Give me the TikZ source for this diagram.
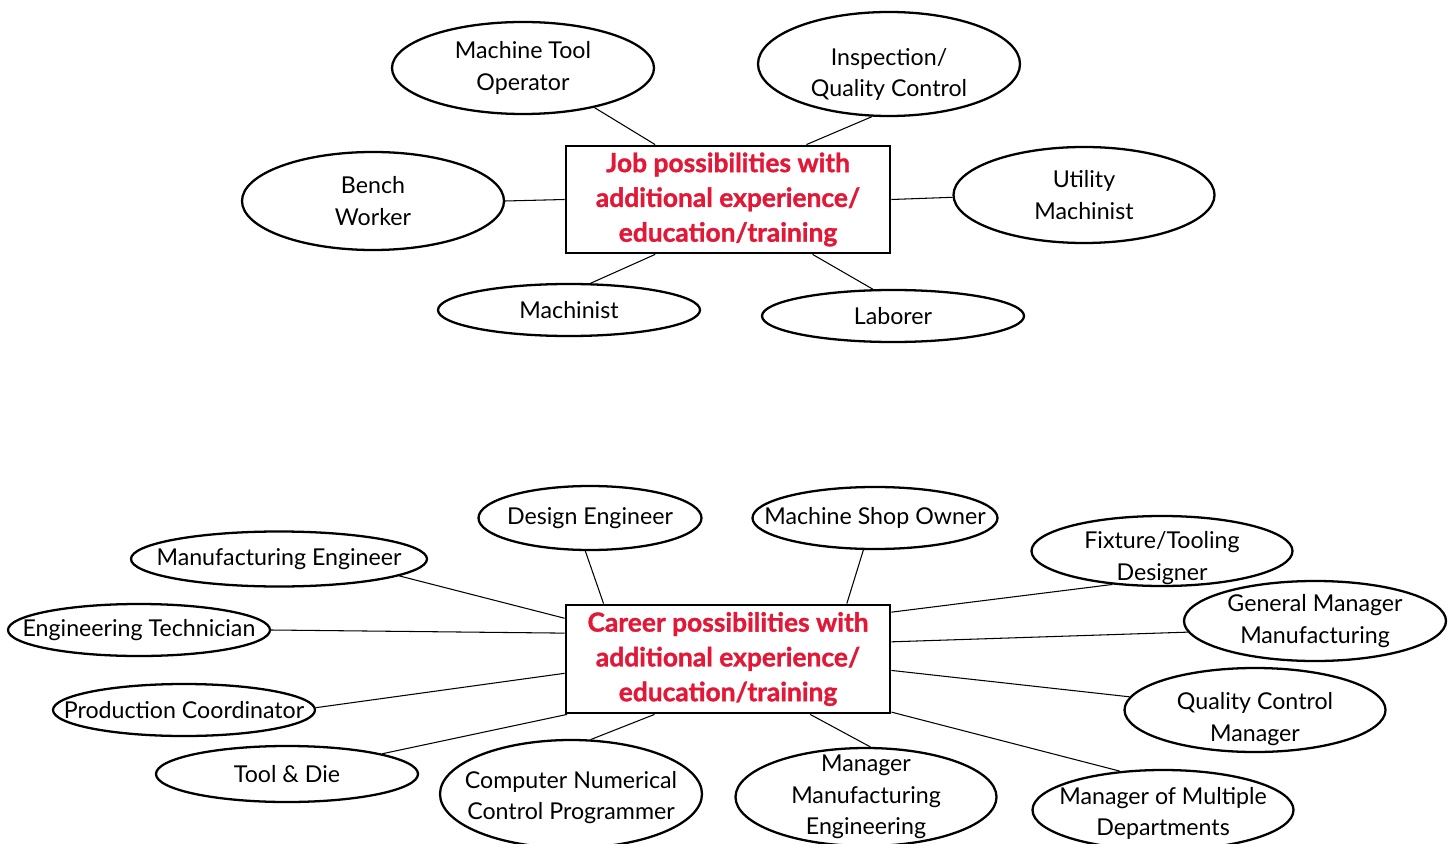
\documentclass[tikz,border=0pt]{standalone}
\usepackage{fontspec}
\setmainfont{Lato}[BoldFeatures={FakeBold=1.2}]
\usetikzlibrary{shapes.geometric}
\definecolor{headred}{RGB}{226,24,54}

\begin{document}
\begin{tikzpicture}[x=0.02cm, y=-0.02cm,
    oval/.style 2 args={draw, ellipse, line width=1.3pt, inner sep=0pt,
      minimum width=0.02cm*#1, minimum height=0.02cm*#2},
    lbl/.style={align=center, inner sep=0pt, font=\fontsize{13.2}{18}\selectfont},
    hub/.style={draw, line width=1.6pt, inner sep=0pt, align=center,
      minimum width=0.02cm*324, minimum height=0.02cm*107, text=headred,
      font=\bfseries\fontsize{15}{19.8}\selectfont},
    link/.style={line width=0.6pt}]
  \useasboundingbox (0,0) rectangle (1452,844);

  % Upper group: jobs
  \node[hub] (jobs) at (728,199.5) {Job possibilities with\\additional experience/\\education/training};

  \node[oval={262}{92}, label={[lbl]center:{Machine Tool\\Operator}}] (mto) at (523,68) {};
  \node[oval={262}{104}, label={[lbl,yshift=-6]center:{Inspection/\\Quality Control}}] (iqc) at (889,64) {};
  \node[oval={262}{98}, label={[lbl]center:{Bench\\Worker}}] (bench) at (373,201) {};
  \node[oval={261}{96}, label={[lbl]center:{Utility\\Machinist}}] (util) at (1084,195) {};
  \node[oval={262}{52}, label={[lbl]center:Machinist}] (mach) at (569,310) {};
  \node[oval={262}{52}, label={[lbl]center:Laborer}] (lab) at (893,316) {};

  % Draw the connectors of the upper group
  \draw[link] (mto.-29.6) -- (jobs.143.8);
  \draw[link] (iqc.-108) -- (jobs.35.9);
  \draw[link] (bench.0.9) -- (jobs.west);
  \draw[link] (jobs.east) -- (util.181.5);
  \draw[link] (mach.51) -- (jobs.-143.8);
  \draw[link] (lab.127.6) -- (jobs.-33.8);

  % Lower group: careers
  \node[hub, minimum height=0.02cm*108] (career) at (728,659) {Career possibilities with\\additional experience/\\education/training};

  \node[oval={223}{64}, label={[lbl]center:Design Engineer}] (de) at (590,518) {};
  \node[oval={245}{62}, label={[lbl]center:Machine Shop Owner}] (mso) at (875,518) {};
  \node[oval={296}{55}, label={[lbl]center:Manufacturing Engineer}] (mfe) at (279,559) {};
  \node[oval={261}{70}, label={[lbl,yshift=-4]center:{Fixture/Tooling\\Designer}}] (fix) at (1162,551) {};
  \node[oval={262}{52}, label={[lbl]center:Engineering Technician}] (etech) at (139,630) {};
  \node[oval={262}{80}, label={[lbl]center:{General Manager\\Manufacturing}}] (gmm) at (1315,621) {};
  \node[oval={262}{52}, label={[lbl]center:Production Coordinator}] (pc) at (184,710) {};
  \node[oval={261}{84}, label={[lbl,yshift=-5]center:{Quality Control\\Manager}}] (qcm) at (1255,710) {};
  \node[oval={262}{56}, label={[lbl]center:Tool \& Die}] (td) at (287,774) {};
  \node[oval={262}{108}, label={[lbl,yshift=-2]center:{Computer Numerical\\Control Programmer}}] (cnc) at (571,794) {};
  \node[oval={261}{98}, label={[lbl]center:{Manager\\Manufacturing\\Engineering}}] (mme) at (866,797) {};
  \node[oval={261}{80}, label={[lbl,yshift=-2]center:{Manager of Multiple\\Departments}}] (mmd) at (1163,810) {};

  % Draw the connectors of the lower group
  \draw[link] (de.-98.6) -- (career.156.6);
  \draw[link] (mso.-110) -- (career.25.2);
  \draw[link] (mfe.-8.6) -- (career.166.5);
  \draw[link] (fix.-146) -- (career.16.5);
  \draw[link] (etech.east) -- (career.171.6);
  \draw[link] (gmm.-175.6) -- (career.6.3);
  \draw[link] (pc.1.3) -- (career.185.3);
  \draw[link] (qcm.174.5) -- (career.-4.6);
  \draw[link] (td.12.4) -- (career.-161.6);
  \draw[link] (cnc.70) -- (career.-143.5);
  \draw[link] (mme.85) -- (career.-34);
  \draw[link] (mmd.138) -- (career.-18.4);
\end{tikzpicture}
\end{document}
